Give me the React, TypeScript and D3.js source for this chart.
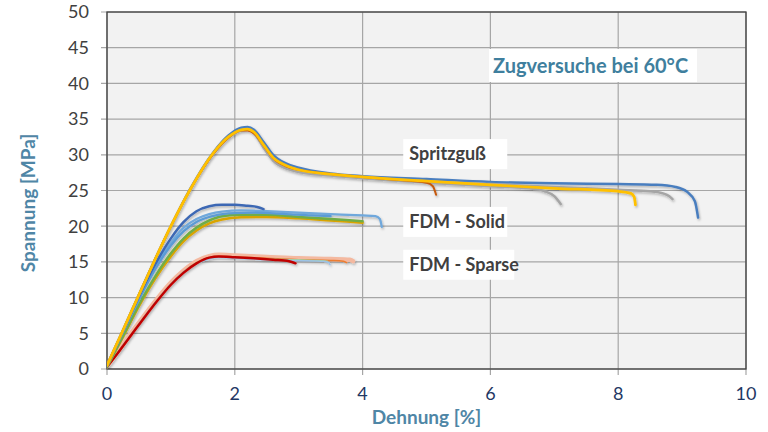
import React from "react";
import * as d3 from "d3";

type Pt = [number, number];

// Axis ticks
const xTicks = [0, 2, 4, 6, 8, 10];
const yTicks = [0, 5, 10, 15, 20, 25, 30, 35, 40, 45, 50];

// Spritzguß (injection moulded) specimens: [Dehnung %, Spannung MPa]
const sgBlue: Pt[] = [[0,0.5],[0.25,5.4],[0.5,10.4],[0.75,15.3],[1.0,20.0],[1.3,25.2],[1.66,30.3],[1.9,32.7],[2.1,33.8],[2.2,33.9],[2.3,33.5],[2.45,31.8],[2.6,30.0],[2.8,28.8],[3.0,28.2],[3.5,27.4],[4,27.0],[5,26.6],[6,26.2],[7,26.0],[8,25.9],[8.6,25.8],[8.9,25.5],[9.08,24.8],[9.2,23.5],[9.25,21.2]];
const sgGrayA: Pt[] = [[0,0.5],[0.25,5.4],[0.5,10.4],[0.75,15.3],[1.0,20.0],[1.3,25.1],[1.66,30.1],[1.9,32.4],[2.1,33.4],[2.2,33.5],[2.3,33.0],[2.45,31.0],[2.6,29.2],[2.8,28.1],[3.0,27.6],[3.5,27.1],[4,26.7],[5,26.1],[6,25.6],[6.6,25.3],[6.85,24.9],[7.0,24.2],[7.1,23.1]];
const sgGrayB: Pt[] = [[0,0.5],[0.25,5.4],[0.5,10.4],[0.75,15.3],[1.0,20.0],[1.3,25.1],[1.66,30.1],[1.9,32.4],[2.1,33.4],[2.2,33.5],[2.3,33.1],[2.45,31.2],[2.6,29.4],[2.8,28.3],[3.0,27.8],[4,26.9],[5,26.3],[6,25.9],[7,25.5],[8,25.1],[8.5,24.9],[8.7,24.6],[8.8,24.2],[8.85,23.8]];
const sgOrange: Pt[] = [[0,0.5],[0.25,5.4],[0.5,10.4],[0.75,15.3],[1.0,20.0],[1.3,25.1],[1.66,30.1],[1.9,32.4],[2.1,33.4],[2.2,33.4],[2.3,33.0],[2.45,31.3],[2.6,29.5],[2.8,28.4],[3.0,27.9],[3.5,27.3],[4,26.9],[4.5,26.5],[5.0,26.1],[5.1,25.6],[5.15,24.4]];
const sgYellow: Pt[] = [[0,0.5],[0.25,5.4],[0.5,10.4],[0.75,15.3],[1.0,20.0],[1.3,25.1],[1.66,30.2],[1.9,32.5],[2.1,33.5],[2.2,33.6],[2.3,33.2],[2.45,31.4],[2.6,29.6],[2.8,28.5],[3.0,27.9],[3.5,27.3],[4,26.9],[5,26.3],[6,25.8],[7,25.3],[8,24.9],[8.2,24.6],[8.25,24.1],[8.27,23.0]];

// FDM - Solid specimens
const fsDark: Pt[] = [[0,0.4],[0.25,5.3],[0.5,10.2],[0.75,14.6],[1.0,18.3],[1.2,20.6],[1.4,22.1],[1.6,22.8],[1.8,23.0],[2.0,23.0],[2.2,22.85],[2.35,22.7],[2.45,22.4]];
const fsLight: Pt[] = [[0,0.5],[0.25,5.2],[0.5,9.9],[0.75,14.2],[1.0,17.7],[1.2,19.8],[1.4,21.0],[1.6,21.7],[1.8,22.05],[2.1,22.2],[2.5,22.1],[3,21.9],[3.5,21.7],[4,21.5],[4.2,21.4],[4.27,21.0],[4.3,19.9]];
const fsSky: Pt[] = [[0,0.5],[0.25,5.1],[0.5,9.7],[0.75,13.9],[1.0,17.3],[1.2,19.3],[1.4,20.6],[1.6,21.3],[1.9,21.8],[2.3,21.9],[2.8,21.7],[3.2,21.5],[3.5,21.4]];
const fsGreen: Pt[] = [[0,0.3],[0.25,4.6],[0.5,9.0],[0.75,12.9],[1.0,16.2],[1.2,18.3],[1.4,19.8],[1.6,20.8],[1.8,21.4],[2.1,21.6],[2.5,21.6],[3,21.3],[3.5,21.0],[4.0,20.7]];
const fsYellow: Pt[] = [[0,0.3],[0.25,4.5],[0.5,8.8],[0.75,12.6],[1.0,15.8],[1.2,17.9],[1.4,19.4],[1.6,20.4],[1.8,20.95],[2.1,21.25],[2.5,21.3],[3,21.1],[3.5,20.8],[4.0,20.5]];

// FDM - Sparse specimens
const spPink: Pt[] = [[0,0.4],[0.2,2.8],[0.4,5.3],[0.6,7.7],[0.8,10.0],[1.0,12.1],[1.2,13.8],[1.4,15.1],[1.6,15.8],[1.75,16.0],[2,15.9],[2.5,15.7],[3,15.5],[3.5,15.4],[3.8,15.3],[3.85,15.1]];
const spOrange: Pt[] = [[0,0.3],[0.2,2.7],[0.4,5.1],[0.6,7.5],[0.8,9.8],[1.0,11.9],[1.2,13.6],[1.4,14.9],[1.6,15.6],[1.75,15.8],[2,15.7],[2.5,15.5],[3,15.3],[3.5,15.2],[3.7,15.1],[3.75,14.9]];
const spGreen: Pt[] = [[0,0.3],[0.2,2.7],[0.4,5.1],[0.6,7.5],[0.8,9.8],[1.0,11.9],[1.2,13.6],[1.4,14.9],[1.6,15.5],[1.75,15.7],[2,15.6],[2.5,15.4],[3,15.3],[3.3,15.2],[3.45,15.1]];
const spBlue: Pt[] = [[0,0.3],[0.2,2.7],[0.4,5.1],[0.6,7.5],[0.8,9.8],[1.0,11.9],[1.2,13.6],[1.4,14.8],[1.6,15.4],[1.75,15.6],[2,15.5],[2.5,15.3],[3,15.2],[3.4,15.1],[3.47,14.9],[3.49,14.6]];
const spRed: Pt[] = [[0,0.3],[0.2,2.6],[0.4,5.0],[0.6,7.4],[0.8,9.7],[1.0,11.8],[1.2,13.5],[1.4,14.8],[1.6,15.6],[1.75,15.75],[2.0,15.65],[2.3,15.5],[2.6,15.3],[2.85,15.1],[2.95,14.8]];

type Series = { data: Pt[]; color: string; width: number };

const series: Series[] = [
  { data: spPink, color: "#f4b9a0", width: 4.5 },
  { data: spOrange, color: "#ed7d31", width: 1.5 },
  { data: spGreen, color: "#a9d18e", width: 1.5 },
  { data: spBlue, color: "#9dc3e6", width: 1.5 },
  { data: spRed, color: "#c00000", width: 2.5 },
  { data: fsYellow, color: "#d9a400", width: 2.5 },
  { data: fsGreen, color: "#70ad47", width: 2.5 },
  { data: fsLight, color: "#6fa8dc", width: 2.25 },
  { data: fsSky, color: "#5b9bd5", width: 2.25 },
  { data: fsDark, color: "#3c68b4", width: 2.5 },
  { data: sgBlue, color: "#4a7ebf", width: 2.5 },
  { data: sgGrayB, color: "#a5a5a5", width: 2.5 },
  { data: sgGrayA, color: "#a5a5a5", width: 2.5 },
  { data: sgOrange, color: "#c55a11", width: 2.0 },
  { data: sgYellow, color: "#ffc000", width: 2.75 },
];

const labels = [
  { text: "Spritzguß", x: 4.73, y: 30.1, w: 104 },
  { text: "FDM - Solid", x: 4.73, y: 20.6, w: 104 },
  { text: "FDM - Sparse", x: 4.73, y: 14.6, w: 111 },
];

const W = 768;
const H = 432;
const left = 107;
const right = 746;
const top = 12;
const bottom = 369;
const FONT = "Lato, 'Open Sans', sans-serif";

export default function App() {
  const x = d3.scaleLinear().domain([0, 10]).range([left, right]);
  const y = d3.scaleLinear().domain([0, 50]).range([bottom, top]);
  const line = d3
    .line<Pt>()
    .x((d) => x(d[0]))
    .y((d) => y(d[1]))
    .curve(d3.curveMonotoneX);

  return (
    <svg
      width={W}
      height={H}
      style={{ position: "absolute", left: 0, top: 0, background: "#fff" }}
      fontFamily={FONT}
    >
      <defs>
        <filter id="shade" x="-5%" y="-5%" width="110%" height="120%">
          <feDropShadow dx="1" dy="1.5" stdDeviation="1" floodColor="#000" floodOpacity="0.28" />
        </filter>
        <clipPath id="plotClip">
          <rect x={left} y={top} width={right - left} height={bottom - top} />
        </clipPath>
      </defs>

      <rect x={left} y={top} width={right - left} height={bottom - top} fill="#f2f2f2" />

      {yTicks.map((t) => (
        <g key={"y" + t}>
          <line x1={left - 6} x2={right} y1={y(t)} y2={y(t)} stroke="#a6a6a6" strokeWidth={1.2} />
          <text x={89} y={y(t)} dy="0.35em" textAnchor="end" fontSize={18} fill="#404040">
            {t}
          </text>
        </g>
      ))}
      {xTicks.map((t) => (
        <g key={"x" + t}>
          <line x1={x(t)} x2={x(t)} y1={top} y2={bottom + 6} stroke="#a6a6a6" strokeWidth={1.2} />
          <text x={x(t)} y={400} textAnchor="middle" fontSize={18} fill="#1f3864">
            {t}
          </text>
        </g>
      ))}

      <rect
        x={left}
        y={top}
        width={right - left}
        height={bottom - top}
        fill="none"
        stroke="#404040"
        strokeWidth={1.3}
      />

      <g clipPath="url(#plotClip)" filter="url(#shade)">
        {series.map((s, i) => (
          <path
            key={i}
            d={line(s.data) || ""}
            fill="none"
            stroke={s.color}
            strokeWidth={s.width}
            strokeLinecap="round"
            strokeLinejoin="round"
          />
        ))}
      </g>

      {labels.map((l) => (
        <g key={l.text}>
          <rect x={x(l.x) - 6} y={y(l.y) - 15} width={l.w} height={30} fill="#fff" />
          <text x={x(l.x)} y={y(l.y)} dy="0.35em" fontSize={18} fontWeight={700} fill="#404040">
            {l.text}
          </text>
        </g>
      ))}

      <rect x={489} y={49} width={208} height={33} fill="#fff" />
      <text x={493} y={66} dy="0.35em" fontSize={20} fontWeight={700} fill="#3f7f9e">
        Zugversuche bei 60°C
      </text>

      <text x={(left + right) / 2} y={424} textAnchor="middle" fontSize={19} fontWeight={700} fill="#4f86a6">
        Dehnung [%]
      </text>
      <text
        transform={`translate(35, 203) rotate(-90)`}
        textAnchor="middle"
        fontSize={19}
        fontWeight={700}
        fill="#4f86a6"
      >
        Spannung [MPa]
      </text>
    </svg>
  );
}
